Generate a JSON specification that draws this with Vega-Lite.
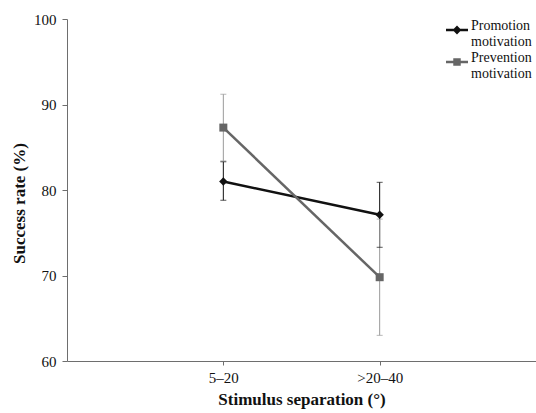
{
  "$schema": "https://vega.github.io/schema/vega-lite/v6.json",
  "width": 469,
  "height": 342,
  "autosize": "none",
  "padding": {"left": 67, "top": 19, "right": 0, "bottom": 52},
  "background": "white",
  "config": {
    "view": {"stroke": null},
    "font": "Liberation Serif",
    "axis": {
      "grid": false,
      "domainColor": "#6e6e6e",
      "tickColor": "#6e6e6e",
      "labelColor": "#111111",
      "labelFont": "Liberation Serif",
      "labelFontSize": 15,
      "titleFont": "Liberation Serif",
      "titleFontSize": 17,
      "titleFontWeight": "bold",
      "titleColor": "#111111",
      "tickSize": 5
    }
  },
  "data": {
    "values": [
      {"series": "Promotion", "sep": "5–20", "mean": 81.0, "lower": 78.8, "upper": 83.3},
      {"series": "Promotion", "sep": ">20–40", "mean": 77.1, "lower": 73.3, "upper": 80.9},
      {"series": "Prevention", "sep": "5–20", "mean": 87.3, "lower": 83.4, "upper": 91.2},
      {"series": "Prevention", "sep": ">20–40", "mean": 69.8, "lower": 63.0, "upper": 76.6}
    ]
  },
  "encoding": {
    "x": {
      "field": "sep",
      "type": "ordinal",
      "sort": ["5–20", ">20–40"],
      "scale": {"type": "point", "padding": 1},
      "axis": {"title": "Stimulus separation (°)", "labelAngle": 0, "tickSize": 4, "labelPadding": 5, "titlePadding": 6}
    }
  },
  "layer": [
    {
      "mark": {"type": "rule", "strokeWidth": 1},
      "encoding": {
        "y": {"field": "lower", "type": "quantitative", "scale": {"domain": [60, 100], "nice": false}, "axis": {"title": "Success rate (%)", "values": [60, 70, 80, 90, 100], "labelPadding": 6, "titlePadding": 5, "titleY": 184}},
        "y2": {"field": "upper"},
        "stroke": {"field": "series", "type": "nominal", "scale": {"domain": ["Prevention", "Promotion"], "range": ["#9a9a9a", "#111111"]}, "legend": null}
      }
    },
    {
      "mark": {"type": "tick", "size": 6, "thickness": 1},
      "encoding": {
        "y": {"field": "lower", "type": "quantitative", "axis": {"title": "Success rate (%)"}},
        "fill": {"field": "series", "type": "nominal", "scale": {"domain": ["Prevention", "Promotion"], "range": ["#9a9a9a", "#111111"]}, "legend": null}
      }
    },
    {
      "mark": {"type": "tick", "size": 6, "thickness": 1},
      "encoding": {
        "y": {"field": "upper", "type": "quantitative", "axis": {"title": "Success rate (%)"}},
        "fill": {"field": "series", "type": "nominal", "legend": null}
      }
    },
    {
      "transform": [{"filter": "datum.series === 'Promotion'"}],
      "mark": {"type": "line", "strokeWidth": 2.5, "color": "#111111"},
      "encoding": {
        "y": {"field": "mean", "type": "quantitative", "axis": {"title": "Success rate (%)"}},
        "order": {"field": "sep"}
      }
    },
    {
      "transform": [{"filter": "datum.series === 'Prevention'"}],
      "mark": {"type": "line", "strokeWidth": 2.5, "color": "#666666"},
      "encoding": {
        "y": {"field": "mean", "type": "quantitative", "axis": {"title": "Success rate (%)"}},
        "order": {"field": "sep"}
      }
    },
    {
      "transform": [{"filter": "datum.series === 'Promotion'"}],
      "mark": {"type": "point", "filled": true, "opacity": 1, "shape": "diamond", "size": 70, "color": "#111111"},
      "encoding": {
        "y": {"field": "mean", "type": "quantitative", "axis": {"title": "Success rate (%)"}}
      }
    },
    {
      "transform": [{"filter": "datum.series === 'Prevention'"}],
      "mark": {"type": "point", "filled": true, "opacity": 1, "shape": "square", "size": 64, "color": "#666666"},
      "encoding": {
        "y": {"field": "mean", "type": "quantitative", "axis": {"title": "Success rate (%)"}}
      }
    },
    {
      "transform": [{"filter": "datum.series === 'none'"}],
      "mark": {"type": "point", "filled": true, "opacity": 1},
      "encoding": {
        "y": {"field": "mean", "type": "quantitative", "axis": {"title": "Success rate (%)"}},
        "color": {
          "field": "series",
          "type": "nominal",
          "scale": {"domain": ["Promotion", "Prevention"], "range": ["#111111", "#666666"]},
          "legend": {
            "orient": "none",
            "legendX": 378,
            "legendY": -1,
            "title": null,
            "padding": 0,
            "symbolSize": 484,
            "symbolOpacity": 1,
            "labelFont": "Liberation Serif",
            "labelFontSize": 14,
            "labelColor": "#111111",
            "labelOffset": 2,
            "labelBaseline": "alphabetic",
            "labelLimit": 200,
            "rowPadding": 1,
            "labelExpr": "[datum.label, 'motivation']"
          }
        },
        "shape": {
          "field": "series",
          "type": "nominal",
          "scale": {"domain": ["Promotion", "Prevention"], "range": ["M-1,-0.11H1V0.11H-1ZM0,-0.4L0.4,0L0,0.4L-0.4,0Z", "M-1,-0.11H1V0.11H-1ZM-0.34,-0.34H0.34V0.34H-0.34Z"]},
          "legend": {
            "orient": "none",
            "legendX": 378,
            "legendY": -1,
            "title": null,
            "padding": 0,
            "symbolSize": 484,
            "symbolOpacity": 1,
            "labelFont": "Liberation Serif",
            "labelFontSize": 14,
            "labelColor": "#111111",
            "labelOffset": 2,
            "labelBaseline": "alphabetic",
            "labelLimit": 200,
            "rowPadding": 1,
            "labelExpr": "[datum.label, 'motivation']"
          }
        }
      }
    }
  ]
}
